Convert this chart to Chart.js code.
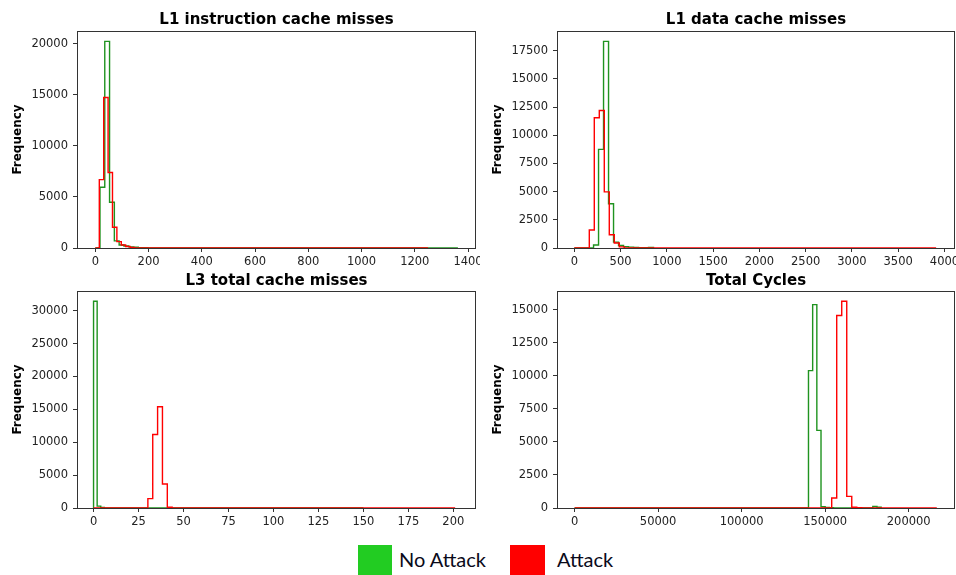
<!DOCTYPE html>
<html>
<head>
<meta charset="utf-8">
<script src="https://cdn.jsdelivr.net/npm/chart.js@4/dist/chart.umd.min.js"></script>
<style>
  html, body { margin: 0; padding: 0; background: #fff; }
  body { width: 956px; height: 575px; position: relative; overflow: hidden; }
  .panel { position: absolute; }
  .swatch { position: absolute; top: 545px; height: 31px; }
  .leg-text { position: absolute; top: 547px; font-family: Lato, "Open Sans", sans-serif; font-size: 20px; line-height: 24px; color: #0a0a1a; }
</style>
</head>
<body>
<div class="panel" style="left:0;top:0;width:480px;height:270px"><canvas id="c1"></canvas></div>
<div class="panel" style="left:480px;top:0;width:476px;height:270px"><canvas id="c2"></canvas></div>
<div class="panel" style="left:0;top:270px;width:480px;height:265px"><canvas id="c3"></canvas></div>
<div class="panel" style="left:480px;top:270px;width:476px;height:265px"><canvas id="c4"></canvas></div>

<div class="swatch" style="left:358px;width:34px;background:#22cc22"></div>
<div class="leg-text" style="left:399px">No Attack</div>
<div class="swatch" style="left:510px;width:35px;background:#ff0000"></div>
<div class="leg-text" style="left:557px">Attack</div>

<script>
// ─── 資料：每個直方圖的 bin 邊界與次數 ─────────────────
// L1 instruction cache misses
const l1iNoEdges   = [0, 17.5, 35.5, 53.5, 71.5, 89.5, 107.5, 125.5, 143.5, 161.5, 179.5, 197.5, 1362];
const l1iNoCounts  = [0, 5950, 20250, 4480, 700, 300, 190, 110, 70, 40, 20, 0];
const l1iAtkEdges  = [0, 15, 31.5, 48, 64.5, 81, 97.5, 114, 130.5, 147, 1250];
const l1iAtkCounts = [0, 6700, 14750, 7400, 2030, 620, 290, 140, 60, 0];
const l1iXTicks = [0, 200, 400, 600, 800, 1000, 1200, 1400];
const l1iYTicks = [0, 5000, 10000, 15000, 20000];

// L1 data cache misses
const l1dNoEdges   = [0, 208, 262, 316, 370, 424, 478, 532, 586, 640, 694, 748, 802, 856];
const l1dNoCounts  = [0, 270, 8750, 18330, 3930, 520, 220, 120, 80, 50, 30, 20, 50];
const l1dAtkEdges  = [0, 162, 216, 270, 324, 378, 432, 486, 540, 3910];
const l1dAtkCounts = [0, 1600, 11550, 12200, 4980, 1170, 440, 100, 0];
const l1dXTicks = [0, 500, 1000, 1500, 2000, 2500, 3000, 3500, 4000];
const l1dYTicks = [0, 2500, 5000, 7500, 10000, 12500, 15000, 17500];

// L3 total cache misses
const l3NoEdges   = [0, 2, 4, 6, 150];
const l3NoCounts  = [31430, 280, 100, 0];
const l3AtkEdges  = [0, 30.2, 32.9, 35.6, 38.3, 41, 43.7, 201];
const l3AtkCounts = [0, 1420, 11170, 15400, 3660, 120, 0];
const l3XTicks = [0, 25, 50, 75, 100, 125, 150, 175, 200];
const l3YTicks = [0, 5000, 10000, 15000, 20000, 25000, 30000];

// Total Cycles
const cycNoEdges   = [0, 140000, 142500, 145000, 147500, 150000, 152500, 155000, 178500, 181000, 183500];
const cycNoCounts  = [0, 10400, 15400, 5880, 90, 40, 20, 0, 110, 60];
const cycAtkEdges  = [0, 153900, 156900, 159900, 162900, 165900, 168900, 171900, 216800];
const cycAtkCounts = [0, 760, 14570, 15650, 880, 60, 20, 0];
const cycXTicks = [0, 50000, 100000, 150000, 200000];
const cycYTicks = [0, 2500, 5000, 7500, 10000, 12500, 15000];

const GREEN = "#1f931f";
const RED = "#ff0000";
const FONT = "DejaVu Sans";

// 把 bin 邊界 + 次數 轉成 step 外框的點
function stepPoints(edges, counts) {
  const pts = [{ x: edges[0], y: 0 }];
  counts.forEach((c, i) => pts.push({ x: edges[i], y: c }));
  pts.push({ x: edges[edges.length - 1], y: 0 });
  return pts;
}

// 外框 (matplotlib 四邊 spine)
const framePlugin = {
  id: "frame",
  afterDatasetsDraw(chart) {
    const { ctx, chartArea: a } = chart;
    ctx.save();
    ctx.strokeStyle = "#333";
    ctx.lineWidth = 1;
    ctx.strokeRect(Math.round(a.left) + 0.5, Math.round(a.top) + 0.5,
                   Math.round(a.right - a.left) - 1, Math.round(a.bottom - a.top));
    ctx.restore();
  }
};

// 每格標題
const titlePlugin = {
  id: "panelTitle",
  afterDraw(chart, args, opts) {
    const { ctx, chartArea: a } = chart;
    ctx.save();
    ctx.font = `bold 15px "${FONT}"`;
    ctx.fillStyle = "#000";
    ctx.textAlign = "center";
    ctx.textBaseline = "alphabetic";
    ctx.fillText(opts.text, (a.left + a.right) / 2, opts.baseline);
    ctx.restore();
  }
};

function makeHist(id, p) {
  const ctx = document.getElementById(id).getContext("2d");
  return new Chart(ctx, {
    type: "line",
    data: {
      datasets: [
        { label: "Attack", data: stepPoints(p.atkEdges, p.atkCounts), borderColor: RED, order: 1 },
        { label: "No Attack", data: stepPoints(p.noEdges, p.noCounts), borderColor: GREEN, order: 2 }
      ]
    },
    options: {
      responsive: true,
      maintainAspectRatio: false,
      animation: false,
      layout: { padding: { left: 0, top: p.top, right: p.right, bottom: 0 } },
      elements: {
        line: { borderWidth: 1.4, stepped: "before", tension: 0, fill: false },
        point: { radius: 0, hoverRadius: 0 }
      },
      plugins: {
        legend: { display: false },
        tooltip: { enabled: false },
        panelTitle: { text: p.title, baseline: p.titleBaseline }
      },
      scales: {
        x: {
          type: "linear",
          min: p.xMin, max: p.xMax,
          afterBuildTicks: s => { s.ticks = p.xTicks.map(v => ({ value: v })); },
          afterFit: s => { s.height = p.xAxisH; s.paddingLeft = 0; s.paddingRight = 0; },
          grid: { drawOnChartArea: false, drawTicks: true, tickLength: 4, color: "#333" },
          border: { display: false },
          ticks: { font: { family: FONT, size: 11.5 }, color: "#222", padding: 3, maxRotation: 0, autoSkip: false,
                   callback: v => String(v) }
        },
        y: {
          type: "linear",
          min: 0, max: p.yMax,
          afterBuildTicks: s => { s.ticks = p.yTicks.map(v => ({ value: v })); },
          afterFit: s => { s.width = 77; s.paddingTop = 0; s.paddingBottom = 0; },
          grid: { drawOnChartArea: false, drawTicks: true, tickLength: 4, color: "#333" },
          border: { display: false },
          ticks: { font: { family: FONT, size: 11.5 }, color: "#222", padding: 5, autoSkip: false,
                   callback: v => String(v) },
          title: { display: true, text: "Frequency", color: "#000",
                   font: { family: FONT, size: 12, weight: "bold" }, padding: { top: 11, bottom: 0 } }
        }
      }
    },
    plugins: [framePlugin, titlePlugin]
  });
}

makeHist("c1", {
  title: "L1 instruction cache misses", titleBaseline: 24, top: 31, right: 4, xAxisH: 22,
  xMin: -68.8, xMax: 1430, yMax: 21270, xTicks: l1iXTicks, yTicks: l1iYTicks,
  noEdges: l1iNoEdges, noCounts: l1iNoCounts, atkEdges: l1iAtkEdges, atkCounts: l1iAtkCounts
});
makeHist("c2", {
  title: "L1 data cache misses", titleBaseline: 24, top: 31, right: 1, xAxisH: 22,
  xMin: -187, xMax: 4114, yMax: 19250, xTicks: l1dXTicks, yTicks: l1dYTicks,
  noEdges: l1dNoEdges, noCounts: l1dNoCounts, atkEdges: l1dAtkEdges, atkCounts: l1dAtkCounts
});
makeHist("c3", {
  title: "L3 total cache misses", titleBaseline: 15, top: 21, right: 4, xAxisH: 27,
  xMin: -9.2, xMax: 212.6, yMax: 33000, xTicks: l3XTicks, yTicks: l3YTicks,
  noEdges: l3NoEdges, noCounts: l3NoCounts, atkEdges: l3AtkEdges, atkCounts: l3AtkCounts
});
makeHist("c4", {
  title: "Total Cycles", titleBaseline: 15, top: 21, right: 1, xAxisH: 27,
  xMin: -10530, xMax: 227700, yMax: 16430, xTicks: cycXTicks, yTicks: cycYTicks,
  noEdges: cycNoEdges, noCounts: cycNoCounts, atkEdges: cycAtkEdges, atkCounts: cycAtkCounts
});
</script>
</body>
</html>
